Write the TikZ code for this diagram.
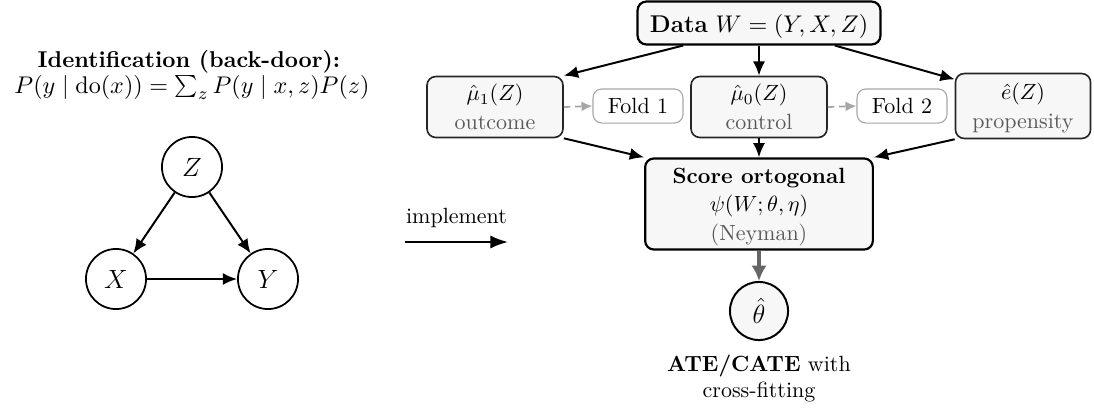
\documentclass[tikz,border=0pt]{standalone}
\usetikzlibrary{arrows.meta,calc,positioning}
\begin{document}
\begin{tikzpicture}[x=0.4545pt,y=-0.4545pt,
  every node/.style={inner sep=0pt},
  box/.style={draw=black!85, line width=0.75pt, rounded corners=4pt, fill=black!3,
    align=center, text depth=0pt},
  mainbox/.style={box, draw=black, line width=1pt},
  foldbox/.style={draw=black!35, line width=0.5pt, rounded corners=4pt, fill=white,
    minimum width=40.9pt, minimum height=15.5pt},
  var/.style={circle, draw=black, line width=0.8pt, minimum size=27.3pt,
    font=\fontsize{13}{15}\selectfont},
  arr/.style={-{Latex[length=6.5pt,width=5.5pt]}, line width=0.9pt, black},
  grayarr/.style={-{Latex[length=7pt,width=7pt]}, line width=1.8pt, black!60},
  foldarr/.style={-{Latex[length=5pt,width=4.5pt]}, line width=0.8pt, black!35, dash pattern=on 3pt off 2pt}
]
\useasboundingbox (0,0) rectangle (1094,407);

% ---- identification panel ----
\node[font=\fontsize{10.4}{12.5}\bfseries, anchor=base] (title) at (189,67) {Identification (back-door):};
\node[font=\fontsize{11.3}{13.5}\selectfont, anchor=base] (formula) at (192,93)
  {$P(y\mid \mathrm{do}(x))=\sum_z P(y\mid x,z)P(z)$};

\node[var] (Z) at (192,167) {$Z$};
\node[var] (X) at (116,279) {$X$};
\node[var] (Y) at (268,279) {$Y$};
\draw[arr] (Z) -- (X);
\draw[arr] (Z) -- (Y);
\draw[arr] (X) -- (Y);

% ---- bridge ----
\coordinate (impA) at (405,242);
\coordinate (impB) at (508,242);
\draw[arr, line width=1pt, -{Latex[length=8pt,width=6pt]}] (impA) -- (impB)
  node[midway, above=6pt] (impl) {implement};

% ---- estimation pipeline ----
\node[mainbox, minimum width=110.4pt, minimum height=19.5pt,
  font=\fontsize{11}{13.5}\selectfont] (data) at (759,23)
  {\textbf{Data} $W=(Y,X,Z)$};

\node[box, minimum width=61.8pt, minimum height=27.7pt] (mu1) at (495,107)
  {$\hat\mu_1(Z)$\\[1pt]{\color{black!65}outcome}};
\node[box, minimum width=61.8pt, minimum height=27.7pt] (mu0) at (759,107)
  {$\hat\mu_0(Z)$\\[1pt]{\color{black!65}control}};
\node[box, minimum width=61.4pt, minimum height=29.5pt] (e) at (1023,106)
  {$\hat e(Z)$\\[1pt]{\color{black!65}propensity}};

\node[foldbox] (f1) at (638,106) {Fold 1};
\node[foldbox] (f2) at (902,106) {Fold 2};

\node[mainbox, minimum width=103.5pt, minimum height=41.4pt] (score) at (759,204)
  {\textbf{Score ortogonal}\\[1pt]$\psi(W;\theta,\eta)$\\[1pt]{\color{black!65}(Neyman)}};

\node[circle, draw=black, line width=0.9pt, fill=black!3, minimum size=26.4pt,
  font=\fontsize{13}{15}\selectfont] (theta) at (759,311) {$\hat\theta$};
\node[align=center, below=6pt of theta.south, anchor=north] (ate) {\textbf{ATE/CATE} with\\cross-fitting};

\draw[arr] ([xshift=-34.5pt]data.south) -- (mu1.north east);
\draw[arr] (data.south) -- (mu0.north);
\draw[arr] ([xshift=34.5pt]data.south) -- ([yshift=-3pt]e.north west);

\draw[foldarr] (mu1.east) -- (f1.west);
\draw[foldarr] (mu0.east) -- (f2.west);

\draw[arr] (mu1.south east) -- (score.north west);
\draw[arr] (mu0.south) -- (score.north);
\draw[arr] (e.south west) -- (score.north east);

\draw[grayarr] (score.south) -- (theta.north);
\end{tikzpicture}
\end{document}
